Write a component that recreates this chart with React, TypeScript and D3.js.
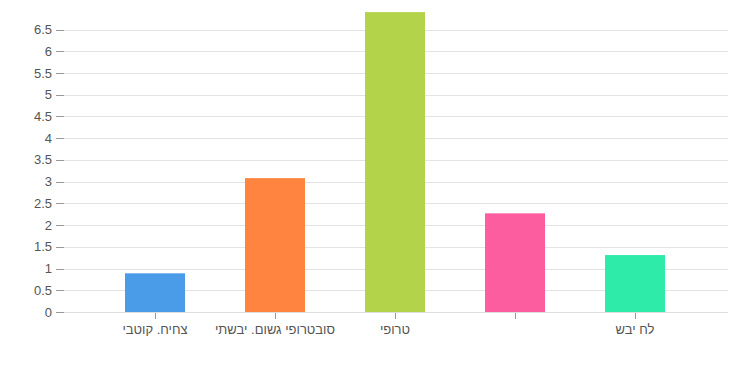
import React from "react";
import * as d3 from "d3";

const categories = ["צחיח. קוטבי", "סובטרופי גשום. יבשתי", "טרופי", "", "לח יבש"];
const values = [0.89, 3.08, 6.9, 2.27, 1.31];
const colors = ["#4a9be8", "#ff8440", "#b2d34a", "#fb5d9e", "#2eebaa"];
const yTicks = [0, 0.5, 1, 1.5, 2, 2.5, 3, 3.5, 4, 4.5, 5, 5.5, 6, 6.5];

const W = 740;
const H = 375;
const plotLeft = 64;
const plotRight = 728;

export default function App() {
  const x = d3.scaleBand<string>().domain(categories.map((c, i) => String(i))).range([95, 695]).paddingInner(0.5).paddingOuter(0.25);
  const y = d3.scaleLinear().domain([0, 6.5]).range([312, 29.5]);
  const font = "'Liberation Sans', Arial, sans-serif";
  return (
    <svg width={W} height={H} style={{ position: "absolute", left: 0, top: 0 }} fontFamily={font}>
      {yTicks.map((t) => (
        <g key={t}>
          <line x1={plotLeft} x2={plotRight} y1={Math.round(y(t)) + 0.5} y2={Math.round(y(t)) + 0.5} stroke="#e3e3e3" strokeWidth={1} />
          <line x1={56} x2={64} y1={Math.round(y(t)) + 0.5} y2={Math.round(y(t)) + 0.5} stroke="#999" strokeWidth={1} />
          <text x={52} y={y(t)} dy="0.35em" textAnchor="end" fontSize={13} fill="#555">{t}</text>
        </g>
      ))}
      {values.map((v, i) => {
        const xs = x(String(i))!;
        return <rect key={i} x={xs} y={y(v)} width={x.bandwidth()} height={y(0) - y(v)} fill={colors[i]} />;
      })}
      <line x1={plotLeft} x2={plotRight} y1={312.5} y2={312.5} stroke="#ddd" />
      {categories.map((c, i) => {
        const cx = x(String(i))! + x.bandwidth() / 2;
        return (
          <g key={i}>
            <line x1={Math.round(cx) + 0.5} x2={Math.round(cx) + 0.5} y1={313} y2={319} stroke="#999" />
            <text x={cx} y={334} textAnchor="middle" fontSize={13} fill="#555" direction="rtl" style={{ unicodeBidi: "plaintext" } as any}>{c}</text>
          </g>
        );
      })}
    </svg>
  );
}
